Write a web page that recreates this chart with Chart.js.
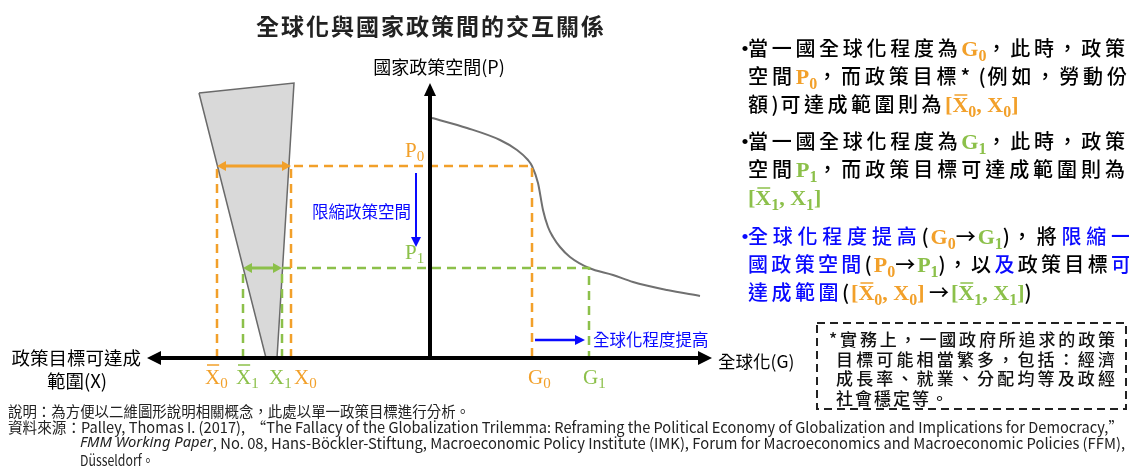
<!DOCTYPE html>
<html>
<head>
<meta charset="utf-8">
<script src="https://cdn.jsdelivr.net/npm/chart.js@4.4.1/dist/chart.umd.min.js"></script>
<style>
  html, body { margin: 0; padding: 0; background: #fff; }
  #wrap { position: relative; width: 1129px; height: 467px; }
</style>
</head>
<body>
<div id="wrap"><canvas id="chart"></canvas></div>
<script>
const ORANGE = '#f2a02a';
const GREEN = '#8cc04a';
const BLUE = '#0a0aff';
const CJK = '"Noto Sans CJK TC", "Noto Sans CJK SC", sans-serif';
const SERIF = '"Liberation Serif", "DejaVu Serif", serif';

// globalization level G (x) and national policy space P (y)
const gLevels = [10.2, 15.9];       // G0, G1
const policySpace = [19.2, 9.0];    // P0, P1
const rangeLow = [-21.3, -18.7];    // X̄0, X̄1
const rangeHigh = [-13.9, -14.8];   // X0, X1

// trade-off curve P(G)
const curveG = [0.2, 3.7, 7.0, 8.7, 9.8, 10.2, 10.8, 11.3, 11.8, 12.3, 13.0, 14.0, 15.9, 18.3, 20.3, 23.7, 27.0];
const curveP = [24.0, 23.0, 21.8, 20.8, 19.8, 19.2, 17.5, 14.8, 13.1, 12.1, 11.1, 10.1, 9.0, 8.3, 7.6, 6.8, 6.2];

// policy target range funnel corners
const funnelX = [-23.1, -13.6, -15.3, -16.4, -23.1];
const funnelY = [26.5, 27.5, 0, 0, 26.5];

// axis extent
const axisLeft = -28.3;
const axisRight = 28.2;
const axisTop = 27.5;

const pts = (xs, ys) => xs.map((x, i) => ({ x, y: ys[i] }));

// Draw a filled arrow head with its tip at (x, y)
const head = (ctx, x, y, ang, len, half, color) => {
  const bx = x - len * Math.cos(ang), by = y - len * Math.sin(ang);
  ctx.beginPath();
  ctx.moveTo(x, y);
  ctx.lineTo(bx + half * Math.sin(ang), by - half * Math.cos(ang));
  ctx.lineTo(bx - half * Math.sin(ang), by + half * Math.cos(ang));
  ctx.closePath();
  ctx.fillStyle = color;
  ctx.fill();
};

const arrow = (ctx, x1, y1, x2, y2, color, width, len, half, both) => {
  const ang = Math.atan2(y2 - y1, x2 - x1);
  const c = Math.cos(ang), s = Math.sin(ang);
  ctx.beginPath();
  ctx.moveTo(both ? x1 + c * (len - 2) : x1, both ? y1 + s * (len - 2) : y1);
  ctx.lineTo(x2 - c * (len - 2), y2 - s * (len - 2));
  ctx.strokeStyle = color;
  ctx.lineWidth = width;
  ctx.setLineDash([]);
  ctx.stroke();
  head(ctx, x2, y2, ang, len, half, color);
  if (both) head(ctx, x1, y1, ang + Math.PI, len, half, color);
};

// Rich text segments: ['t' spaced cjk | 'n' tight cjk | 'm' math | 's' subscript | 'b' overbar math, text, colour]
const segFont = (k, st) => (k === 't' || k === 'n') ? st.cjk : (k === 's' ? st.sub : st.math);

const richWidth = (ctx, segs, st, sp) => {
  let w = 0;
  segs.forEach(([k, t]) => {
    ctx.font = segFont(k, st);
    if (k === 't') {
      for (const ch of t) w += ctx.measureText(ch).width + sp;
    } else {
      w += ctx.measureText(t).width;
    }
  });
  return w;
};

const drawRich = (ctx, x, y, segs, st, endX) => {
  let sp = st.sp;
  if (endX) {
    const w = richWidth(ctx, segs, st, sp);
    let n = 0;
    segs.forEach(([k, t]) => { if (k === 't') n += [...t].length; });
    sp += (endX - x - w + sp) / (n - 1);
  }
  let cx = x;
  ctx.textAlign = 'left';
  ctx.textBaseline = 'alphabetic';
  segs.forEach(([k, t, c]) => {
    ctx.fillStyle = c || '#000';
    ctx.font = segFont(k, st);
    if (k === 't') {
      for (const ch of t) {
        ctx.fillText(ch, cx, y);
        cx += ctx.measureText(ch).width + sp;
      }
    } else {
      const w = ctx.measureText(t).width;
      ctx.fillText(t, cx, y + (k === 's' ? st.subDy : 0));
      if (k === 'b') {
        ctx.beginPath();
        ctx.moveTo(cx + 2, y - st.barDy);
        ctx.lineTo(cx + w - 1, y - st.barDy);
        ctx.strokeStyle = c || '#000';
        ctx.lineWidth = 1.5;
        ctx.setLineDash([]);
        ctx.stroke();
      }
      cx += w + (k === 'n' ? 2 : 0);
    }
  });
};

// Squeeze a run of text parts into a given width
const fitText = (ctx, parts, x, y, width) => {
  let total = 0;
  parts.forEach(p => { ctx.font = p.f; total += ctx.measureText(p.t).width; });
  ctx.save();
  ctx.translate(x, y);
  ctx.scale(width / total, 1);
  let cx = 0;
  parts.forEach(p => {
    ctx.font = p.f;
    ctx.fillText(p.t, cx, 0);
    cx += ctx.measureText(p.t).width;
  });
  ctx.restore();
};

const RIGHT = { cjk: `500 20px ${CJK}`, math: `bold 22px ${SERIF}`, sub: `bold 16px ${SERIF}`, subDy: 5, barDy: 17, sp: 3.5 };
const TICK = { cjk: `18px ${CJK}`, math: `21px ${SERIF}`, sub: `15px ${SERIF}`, subDy: 4, barDy: 19, sp: 0 };

const O = ORANGE, G = GREEN, B = BLUE;
const bulletLines = [
  { y: 56, end: 1125, segs: [['t', '當一國全球化程度為'], ['m', 'G', O], ['s', '0', O], ['t', '，此時，政策']] },
  { y: 84, end: 1125, segs: [['t', '空間'], ['m', 'P', O], ['s', '0', O], ['t', '，而政策目標*'], ['n', ' ('], ['t', '例如，勞動份']] },
  { y: 112, segs: [['t', '額'], ['n', ')'], ['t', '可達成範圍則為'], ['m', '[', O], ['b', 'X', O], ['s', '0', O], ['m', ', X', O], ['s', '0', O], ['m', ']', O]] },
  { y: 149, end: 1125, segs: [['t', '當一國全球化程度為'], ['m', 'G', G], ['s', '1', G], ['t', '，此時，政策']] },
  { y: 177, end: 1125, segs: [['t', '空間'], ['m', 'P', G], ['s', '1', G], ['t', '，而政策目標可達成範圍則為']] },
  { y: 205, segs: [['m', '[', G], ['b', 'X', G], ['s', '1', G], ['m', ', X', G], ['s', '1', G], ['m', ']', G]] },
  { y: 244, end: 1125, segs: [['t', '全球化程度提高', B], ['n', '('], ['m', 'G', O], ['s', '0', O], ['n', '→'], ['m', 'G', G], ['s', '1', G], ['n', ')'], ['t', '，將'], ['t', '限縮一', B]] },
  { y: 272, end: 1125, segs: [['t', '國政策空間', B], ['n', '('], ['m', 'P', O], ['s', '0', O], ['n', '→'], ['m', 'P', G], ['s', '1', G], ['n', ')'], ['t', '，以'], ['t', '及', B], ['t', '政策目標'], ['t', '可', B]] },
  { y: 300, segs: [['t', '達成範圍', B], ['n', '('], ['m', '[', O], ['b', 'X', O], ['s', '0', O], ['m', ', X', O], ['s', '0', O], ['m', ']', O], ['n', ' →'], ['m', '[', G], ['b', 'X', G], ['s', '1', G], ['m', ', X', G], ['s', '1', G], ['m', ']', G], ['n', ')']] }
];
const bullets = [{ y: 56, c: '#000' }, { y: 149, c: '#000' }, { y: 244, c: BLUE }];

const noteLines = ['*實務上，一國政府所追求的政策', '目標可能相當繁多，包括：經濟', '成長率、就業、分配均等及政經', '社會穩定等。'];

const overlay = {
  id: 'overlay',
  afterDatasetsDraw(chart) {
    const { ctx, scales: { x, y } } = chart;
    const px = v => x.getPixelForValue(v);
    const py = v => y.getPixelForValue(v);
    const ox = px(0), oy = py(0);
    ctx.save();

    // double arrows for the reachable ranges
    arrow(ctx, px(rangeLow[0]), py(policySpace[0]), px(rangeHigh[0]), py(policySpace[0]), ORANGE, 3, 9, 5, true);
    arrow(ctx, px(rangeLow[1]), py(policySpace[1]), px(rangeHigh[1]), py(policySpace[1]), GREEN, 3, 9, 5, true);

    // axes
    arrow(ctx, px(axisLeft), oy, px(axisRight), oy, '#000', 4, 14, 7, true);
    arrow(ctx, ox, oy, ox, py(axisTop), '#000', 4, 13, 6, false);

    // blue annotation arrows
    arrow(ctx, px(-1.4), py(18.5), px(-1.4), py(11.1), BLUE, 2, 10, 5, false);
    arrow(ctx, px(10.5), py(1.8), px(15.5), py(1.8), BLUE, 2.5, 10, 5, false);

    // title and axis titles
    ctx.textBaseline = 'middle';
    ctx.fillStyle = '#222';
    ctx.textAlign = 'center';
    ctx.font = `bold 23px ${CJK}`;
    ctx.letterSpacing = '2px';
    ctx.fillText('全球化與國家政策間的交互關係', 431, 26);
    ctx.letterSpacing = '0px';
    ctx.fillStyle = '#000';
    ctx.font = `18px ${CJK}`;
    ctx.fillText('國家政策空間(P)', ox + 9, 67);
    ctx.textAlign = 'right';
    ctx.font = `18.5px ${CJK}`;
    ctx.fillText('政策目標可達成', 141, oy);
    ctx.textAlign = 'center';
    ctx.fillText('範圍(X)', 77, oy + 23);
    ctx.textAlign = 'left';
    ctx.font = `17.5px ${CJK}`;
    ctx.fillText('全球化(G)', px(axisRight) + 6, oy + 3);

    ctx.fillStyle = BLUE;
    ctx.font = `16.5px ${CJK}`;
    ctx.textAlign = 'right';
    ctx.fillText('限縮政策空間', px(-1.4) - 5, 212);
    ctx.textAlign = 'left';
    ctx.fillText('全球化程度提高', px(15.5) + 8, py(1.8));

    // tick-like labels
    const ty = oy + 26;
    drawRich(ctx, 205, ty, [['b', 'X', O], ['s', '0', O]], TICK);
    drawRich(ctx, 236, ty, [['b', 'X', G], ['s', '1', G]], TICK);
    drawRich(ctx, 269, ty, [['m', 'X', G], ['s', '1', G]], TICK);
    drawRich(ctx, 294, ty, [['m', 'X', O], ['s', '0', O]], TICK);
    drawRich(ctx, 528, ty, [['m', 'G', O], ['s', '0', O]], TICK);
    drawRich(ctx, 583, ty, [['m', 'G', G], ['s', '1', G]], TICK);
    drawRich(ctx, 405, py(policySpace[0]) - 9, [['m', 'P', O], ['s', '0', O]], TICK);
    drawRich(ctx, 405, py(policySpace[1]) - 9, [['m', 'P', G], ['s', '1', G]], TICK);

    // right-hand explanation
    bullets.forEach(b => {
      ctx.fillStyle = b.c;
      ctx.font = `bold 20px ${CJK}`;
      ctx.textAlign = 'left';
      ctx.fillText('•', 735, b.y);
    });
    bulletLines.forEach(l => drawRich(ctx, 748, l.y, l.segs, RIGHT, l.end));

    // dashed note box
    ctx.beginPath();
    ctx.rect(817, 323, 309, 86);
    ctx.setLineDash([8, 5]);
    ctx.lineWidth = 2;
    ctx.strokeStyle = '#222';
    ctx.stroke();
    ctx.setLineDash([]);
    const NOTE = { cjk: `500 17px ${CJK}`, math: '', sub: '', sp: 2 };
    noteLines.forEach((t, i) => drawRich(ctx, i === 0 ? 829 : 836, 346 + i * 19.5, [['t', t, '#111']], NOTE, i < 3 ? 1115 : 0));

    // footer
    ctx.fillStyle = '#222';
    ctx.textAlign = 'left';
    ctx.textBaseline = 'middle';
    const F = `15px ${CJK}`;
    const FI = `italic 15px "Noto Sans", sans-serif`;
    fitText(ctx, [{ t: '說明：為方便以二維圖形說明相關概念，此處以單一政策目標進行分析。', f: F }], 8, 411, 462);
    fitText(ctx, [{ t: '資料來源：Palley, Thomas I. (2017),  “The Fallacy of the Globalization Trilemma: Reframing the Political Economy of Globalization and Implications for Democracy,”', f: F }], 8, 427, 1115);
    fitText(ctx, [{ t: 'FMM Working Paper', f: FI }, { t: ', No. 08, Hans-Böckler-Stiftung, Macroeconomic Policy Institute (IMK), Forum for Macroeconomics and Macroeconomic Policies (FFM),', f: F }], 80, 443, 1045);
    fitText(ctx, [{ t: 'Düsseldorf。', f: F }], 80, 460, 74);

    ctx.restore();
  }
};

const dash = { borderWidth: 2.5, borderDash: [9, 6], pointRadius: 0, showLine: true, fill: false };

new Chart(document.getElementById('chart'), {
  type: 'scatter',
  data: {
    datasets: [
      { ...dash, borderColor: ORANGE, data: [{ x: rangeLow[0], y: 0 }, { x: rangeLow[0], y: policySpace[0] }] },
      { ...dash, borderColor: ORANGE, data: [{ x: rangeHigh[0], y: 0 }, { x: rangeHigh[0], y: policySpace[0] }, { x: gLevels[0], y: policySpace[0] }, { x: gLevels[0], y: 0 }] },
      { ...dash, borderColor: GREEN, data: [{ x: rangeLow[1], y: 0 }, { x: rangeLow[1], y: policySpace[1] }] },
      { ...dash, borderColor: GREEN, data: [{ x: rangeHigh[1], y: 0 }, { x: rangeHigh[1], y: policySpace[1] }, { x: gLevels[1], y: policySpace[1] }, { x: gLevels[1], y: 0 }] },
      { data: pts(curveG, curveP), borderColor: '#707070', borderWidth: 2, pointRadius: 0, showLine: true, cubicInterpolationMode: 'monotone', fill: false },
      { data: pts(funnelX, funnelY), borderColor: '#6a6a6a', backgroundColor: '#d9d9d9', borderWidth: 1.5, pointRadius: 0, showLine: true, fill: 'shape' }
    ]
  },
  options: {
    responsive: true,
    maintainAspectRatio: false,
    animation: false,
    events: [],
    layout: { padding: 0 },
    plugins: { legend: { display: false }, tooltip: { enabled: false } },
    scales: {
      x: { type: 'linear', display: false, min: -43, max: 69.9 },
      y: { type: 'linear', display: false, min: -10.9, max: 35.8 }
    }
  },
  plugins: [overlay]
});
</script>
</body>
</html>
